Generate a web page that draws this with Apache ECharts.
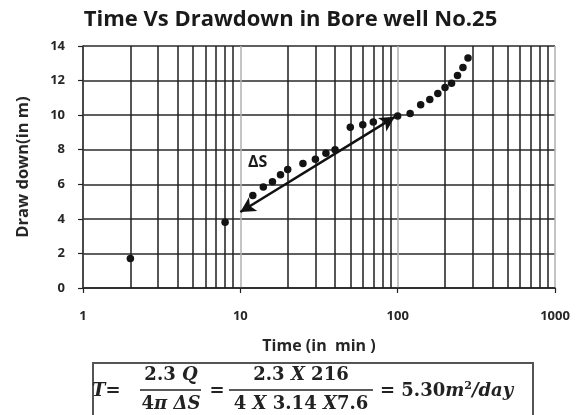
<!DOCTYPE html>
<html>
<head>
<meta charset="utf-8">
<script src="https://cdn.jsdelivr.net/npm/echarts@6/dist/echarts.min.js"></script>
<style>html,body{margin:0;padding:0;background:#fff}#c{width:581px;height:415px}</style>
</head>
<body>
<div id="c"></div>
<script>
// Data
var timeMin = [2, 8, 12, 14, 16, 18, 20, 25, 30, 35, 40, 50, 60, 70, 100, 120, 140, 160, 180, 200, 220, 240, 260, 280];
var drawdown = [1.7, 3.8, 5.35, 5.85, 6.15, 6.55, 6.85, 7.2, 7.45, 7.8, 8.0, 9.3, 9.45, 9.6, 9.95, 10.1, 10.6, 10.9, 11.25, 11.6, 11.85, 12.3, 12.75, 13.3];
var minorGridX = [2,3,4,5,6,7,8,9,20,30,40,50,60,70,80,90,200,300,400,500,600,700,800,900];
var arrowStart = [10, 4.4];
var arrowEnd = [96, 9.9];
var yTicks = [0, 2, 4, 6, 8, 10, 12, 14];

var points = timeMin.map(function (t, i) { return [t, drawdown[i]]; });

var chart = echarts.init(document.getElementById('c'), null, {renderer: 'canvas'});
var txt = '#262626';
var SERIF = 'DejaVu Serif';
var FS = 18;
var numStyle = {fontFamily: SERIF, fontWeight: 'bold', fontSize: FS, fill: '#222'};
var varStyle = {fontFamily: SERIF, fontStyle: 'italic', fontWeight: 'bold', fontSize: FS, fill: '#222'};
function rt(text, x, y, align) {
  return {type: 'text', x: x, y: y, style: {text: text, textAlign: align || 'center', textVerticalAlign: 'middle',
    rich: {n: numStyle, v: varStyle, s: {fontFamily: SERIF, fontWeight: 'bold', fontSize: 11, fill: '#222', padding: [0, 0, 10, 0]}}}};
}
var option = {
  backgroundColor: '#fff',
  animation: false,
  title: {
    text: 'Time Vs Drawdown in Bore well No.25',
    left: 'center',
    top: 4,
    textStyle: {fontFamily: 'Open Sans', fontWeight: 'bold', fontSize: 22, color: '#1a1a1a'}
  },
  grid: {left: 83, right: 26, top: 46, bottom: 127},
  xAxis: {
    type: 'log', logBase: 10, min: 1, max: 1000,
    name: 'Time (in  min )', nameLocation: 'middle', nameGap: 50,
    nameTextStyle: {fontFamily: 'Open Sans', fontWeight: 'bold', fontSize: 16, color: txt},
    axisLine: {show: true, onZero: false, lineStyle: {color: '#222', width: 1.5}},
    axisTick: {show: true, length: 5, lineStyle: {color: '#222', width: 1.2}},
    axisLabel: {margin: 22, fontFamily: 'Open Sans', fontWeight: 'bold', fontSize: 13, color: txt,
      formatter: function (v) { return String(Math.round(v)); }},
    splitLine: {show: true, lineStyle: {color: '#b0b0b0', width: 1.5}},
    minorTick: {show: false}, minorSplitLine: {show: false}
  },
  yAxis: {
    type: 'value', min: 0, max: 14, interval: 2,
    name: 'Draw down(in m)', nameLocation: 'middle', nameGap: 51,
    nameTextStyle: {fontFamily: 'Open Sans', fontWeight: 'bold', fontSize: 16.5, color: txt},
    axisLine: {show: true, lineStyle: {color: '#222', width: 1.5}},
    axisTick: {show: true, length: 5, lineStyle: {color: '#222', width: 1.2}},
    axisLabel: {margin: 18, fontFamily: 'Open Sans', fontWeight: 'bold', fontSize: 13, color: txt,
      formatter: function (v) { return yTicks.indexOf(v) >= 0 ? String(v) : ''; }},
    splitLine: {show: true, lineStyle: {color: '#2a2a2a', width: 1.5}}
  },
  series: [
    {
      type: 'line', data: [], z: 1, silent: true,
      markLine: {
        silent: true, symbol: 'none', label: {show: false},
        lineStyle: {color: '#1e1e1e', width: 1.5, type: 'solid'},
        emphasis: {disabled: true},
        data: minorGridX.map(function (v) { return {xAxis: v}; })
      }
    },
    {
      type: 'scatter', data: points, z: 5, symbolSize: 7.5,
      itemStyle: {color: '#141414', opacity: 1},
      markLine: {
        silent: true, symbol: ['arrow', 'arrow'], symbolSize: [12, 15],
        label: {show: false},
        lineStyle: {color: '#111', width: 2.5, type: 'solid', opacity: 1},
        emphasis: {disabled: true},
        data: [[{coord: arrowStart}, {coord: arrowEnd}]]
      }
    }
  ],
  graphic: [
    {type: 'text', left: 248, top: 154, style: {text: 'ΔS', fontFamily: 'Open Sans', fontWeight: 'bold', fontSize: 16, fill: '#1a1a1a'}},
    {type: 'rect', shape: {x: 93, y: 363, width: 440, height: 54}, style: {fill: '#fff', stroke: '#555', lineWidth: 2}},
    rt('{v|T}', 92, 391, 'left'),
    rt('{n|=}', 113, 391),
    rt('{n|2.3 }{v|Q}', 171, 375),
    {type: 'line', shape: {x1: 140, y1: 390, x2: 201, y2: 390}, style: {stroke: '#222', lineWidth: 1.5}},
    rt('{n|4}{v|π ΔS}', 171, 404),
    rt('{n|=}', 217, 391),
    rt('{n|2.3 }{v|X}{n| 216}', 301, 375),
    {type: 'line', shape: {x1: 229, y1: 390, x2: 373, y2: 390}, style: {stroke: '#222', lineWidth: 1.5}},
    rt('{n|4 }{v|X}{n| 3.14 }{v|X}{n|7.6}', 301, 404),
    rt('{n|= 5.30}{v|m}{s|2}{v|/day}', 380, 391, 'left')
  ]
};
chart.setOption(option);
</script>
</body>
</html>
